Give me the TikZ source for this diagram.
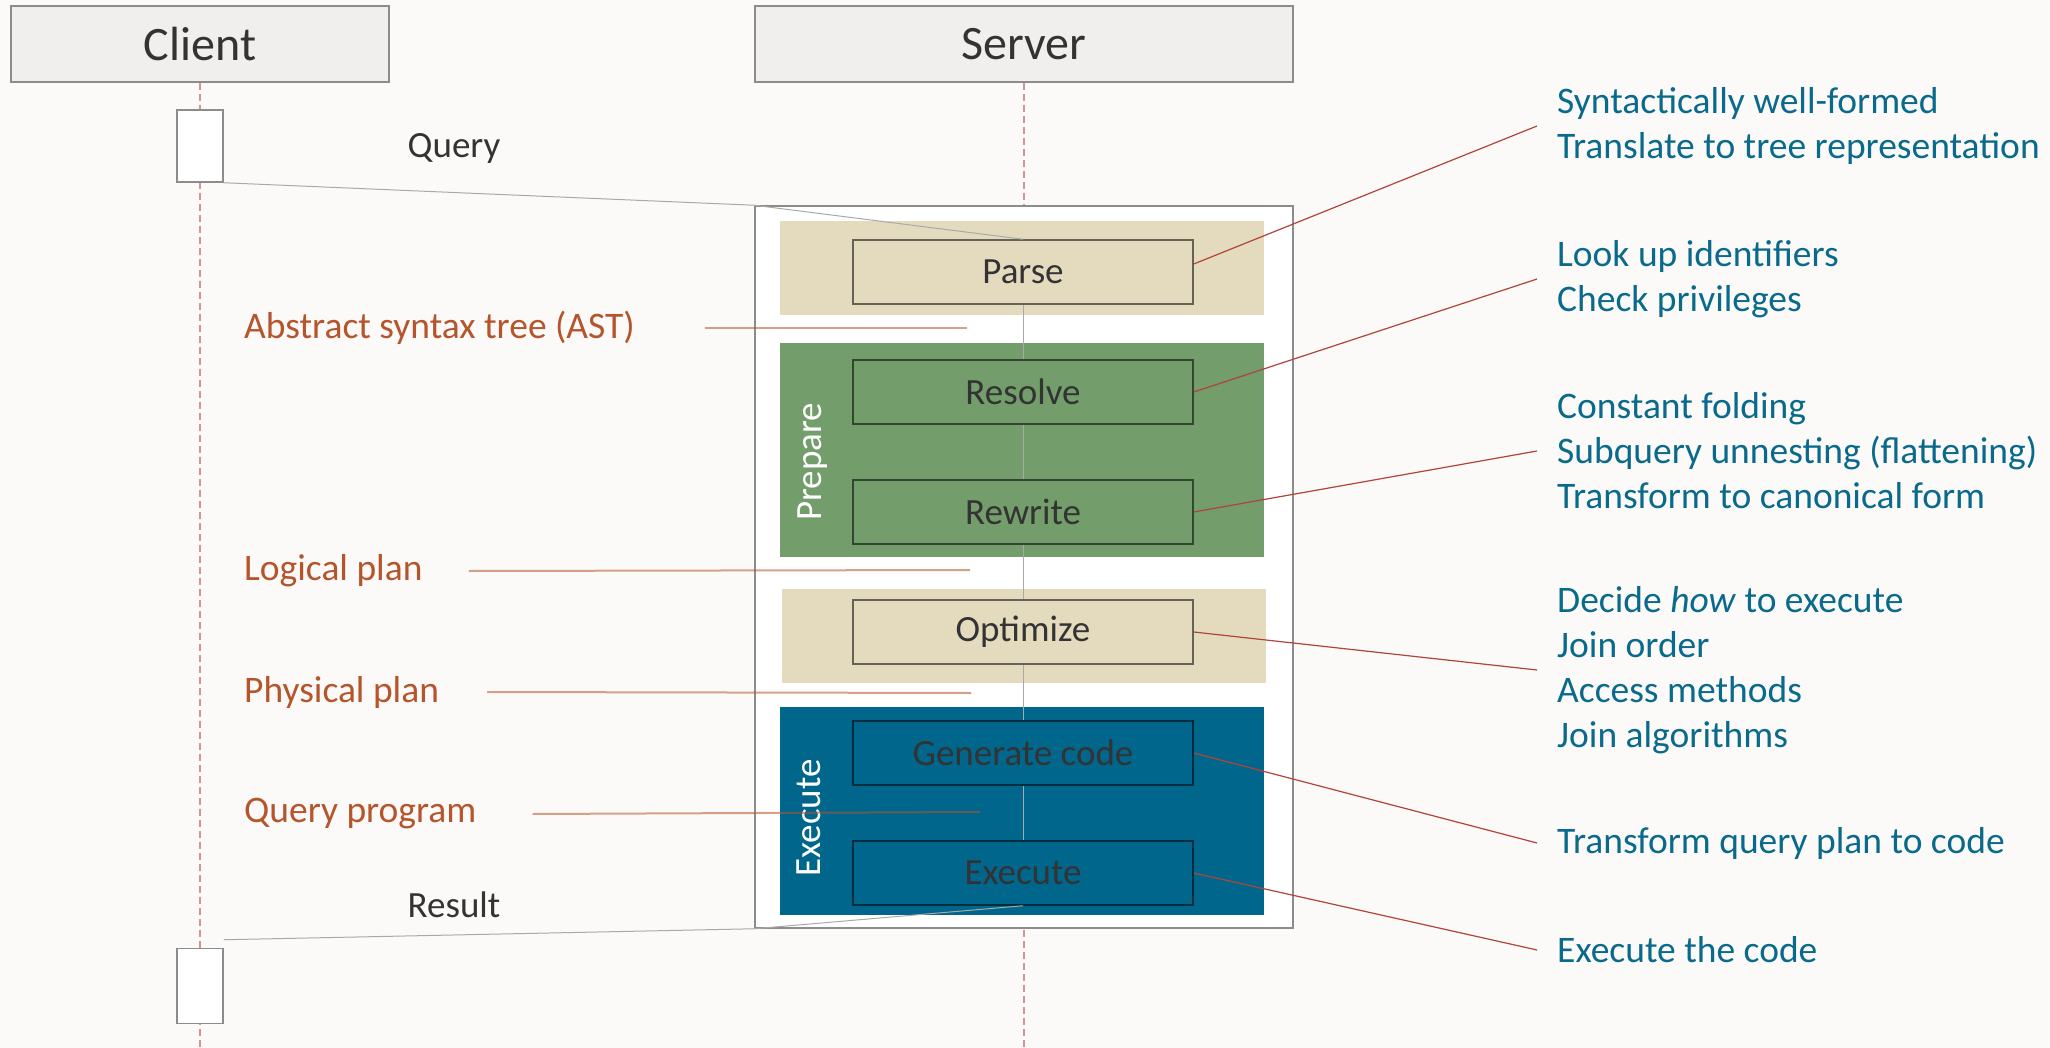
\documentclass[tikz,border=0pt]{standalone}
\usepackage{fontspec}
\setmainfont{Carlito}
\definecolor{bgpaper}{HTML}{FBFAF8}
\definecolor{headfill}{HTML}{F0EFED}
\definecolor{framegray}{HTML}{8C8C8C}
\definecolor{tanband}{HTML}{E4DBBE}
\definecolor{greenband}{HTML}{739D6B}
\definecolor{blueband}{HTML}{00668C}
\definecolor{inktext}{HTML}{333333}
\definecolor{noteteal}{HTML}{0A6A8C}
\definecolor{planbrown}{HTML}{B5552B}
\definecolor{callred}{HTML}{B0443A}
\definecolor{lifered}{HTML}{D49494}
\tikzset{
  headbox/.style={draw=framegray, fill=headfill, line width=1.5pt, minimum height=76pt, inner sep=0pt, text=inktext, font=\fontsize{48}{57}\selectfont},
  actbox/.style={draw=framegray, fill=white, line width=1.5pt, minimum width=46pt, inner sep=0pt},
  band/.style={draw=none, minimum width=484pt, inner sep=0pt},
  stepbox/.style={draw=black, draw opacity=0.55, line width=1.5pt, minimum width=340pt, minimum height=64pt, inner sep=0pt, text=inktext, font=\fontsize{37}{44}\selectfont},
  note/.style={anchor=west, align=left, inner xsep=20pt, inner ysep=0pt, text=noteteal, font=\fontsize{37.5}{45}\selectfont},
  plan/.style={anchor=west, inner sep=0pt, text=planbrown, font=\fontsize{37.5}{45}\selectfont},
  msg/.style={inner sep=0pt, text=inktext, font=\fontsize{37}{44}\selectfont},
  phase/.style={inner sep=0pt, text=white, rotate=90, font=\fontsize{37}{44}\selectfont},
  lifeline/.style={draw=lifered, line width=1.5pt, dash pattern={on 7pt off 4pt}},
  callout/.style={draw=callred, line width=1.2pt},
  planline/.style={draw=planbrown, draw opacity=0.55, line width=2pt},
  wire/.style={draw=framegray!75, line width=1pt},
}
\begin{document}
\begin{tikzpicture}[x=1pt,y=1pt,yscale=-1]
        \fill [bgpaper] (0,0) rectangle (2050,1048);
        \useasboundingbox (0,0) rectangle (2050,1048);
        \coordinate (bot) at (0,1048);
        % Head Nodes
        \node (client) at (200,44) [headbox, minimum width=378pt] {Client};
        \node (server) at (1024,44) [headbox, minimum width=538pt] {Server};
        % Lifelines
        \draw [lifeline] (client.south) -- (client.south |- bot);
        \draw [lifeline] (server.south) -- (server.south |- bot);
        % Server Frame
        \node (frame) at (1024,567) [draw=framegray, fill=white, line width=1.5pt, minimum width=538pt, minimum height=722pt, inner sep=0pt] {};
        % Bands
        \node (parseband) at (1022,268) [band, fill=tanband, minimum height=94pt] {};
        \node (prepband) at (1022,450) [band, fill=greenband, minimum height=214pt] {};
        \node (optband) at (1024,636) [band, fill=tanband, minimum height=94pt] {};
        \node (execband) at (1022,811) [band, fill=blueband, minimum height=208pt] {};
        % Phase Labels
        \node (preplbl) at (813,462) [phase] {Prepare};
        \node (execlbl) at (809,818) [phase] {Execute};
        % Step Nodes
        \node (parse) at (1023,272) [stepbox] {Parse};
        \node (resolve) at (1023,392) [stepbox] {Resolve};
        \node (rewrite) at (1023,512) [stepbox] {Rewrite};
        \node (optimize) at (1023,632) [stepbox] {Optimize};
        \node (generate) at (1023,753) [stepbox] {Generate code};
        \node (execute) at (1023,873) [stepbox] {Execute};
        % Connection
        \draw [wire] (parse.south) -- (resolve.north);
        \draw [wire] (resolve.south) -- (rewrite.north);
        \draw [wire] (rewrite.south) -- (optimize.north);
        \draw [wire] (optimize.south) -- (generate.north);
        \draw [wire] (generate.south) -- (execute.north);
        % Plan Labels
        \node (ast) at (244,328) [plan] {Abstract syntax tree (AST)};
        \node (logical) at (244,571) [plan] {Logical plan};
        \node (physical) at (244,692) [plan] {Physical plan};
        \node (program) at (244,814) [plan] {Query program};
        \coordinate (astend) at (967,328);
        \coordinate (logicalend) at (970,570);
        \coordinate (physicalend) at (971,693);
        \coordinate (programend) at (980,812);
        \draw [planline] ([xshift=70pt]ast.east) -- (astend);
        \draw [planline] ([xshift=46pt]logical.east) -- (logicalend);
        \draw [planline] ([xshift=48pt]physical.east) -- (physicalend);
        \draw [planline] ([xshift=56pt]program.east) -- (programend);
        % Messages
        \node (act1) at (200,146) [actbox, minimum height=72pt] {};
        \node (act2) at (200,986) [actbox, minimum height=75pt] {};
        \node (query) at (454,148) [msg] {Query};
        \node (result) at (454,905) [msg] {Result};
        \draw [wire] (act1.south east) -- (frame.north west) -- (parse.north);
        \draw [wire] (execute.south) -- (frame.south west) -- ([yshift=-8pt]act2.north east);
        % Notes
        \node (n1) at (1537,126) [note] {Syntactically well-formed\\Translate to tree representation};
        \node (n2) at (1537,279) [note] {Look up identifiers\\Check privileges};
        \node (n3) at (1537,451) [note] {Constant folding\\Subquery unnesting (flattening)\\Transform to canonical form};
        \node (n4) at (1537,670) [note] {Decide \emph{how} to execute\\Join order\\Access methods\\Join algorithms};
        \node (n5) at (1537,843) [note] {Transform query plan to code};
        \node (n6) at (1537,950) [note] {Execute the code};
        % Callouts
        \draw [callout] ([yshift=-8pt]parse.east) -- (n1.west);
        \draw [callout] (resolve.east) -- (n2.west);
        \draw [callout] (rewrite.east) -- (n3.west);
        \draw [callout] (optimize.east) -- (n4.west);
        \draw [callout] (generate.east) -- (n5.west);
        \draw [callout] (execute.east) -- (n6.west);
\end{tikzpicture}
\end{document}
